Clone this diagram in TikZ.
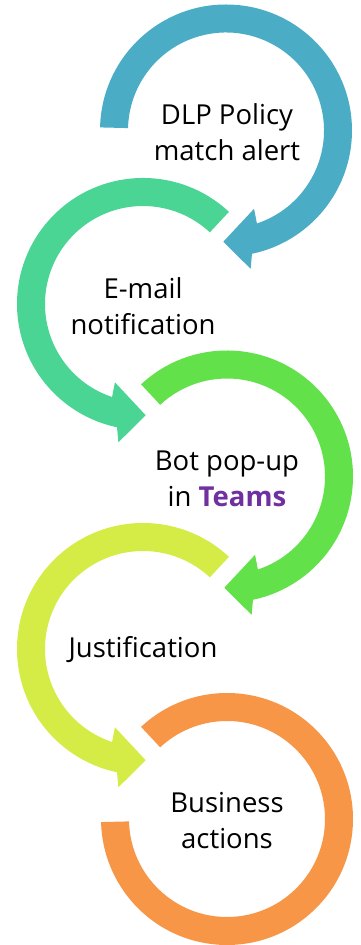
\documentclass[tikz,border=0pt]{standalone}
\usepackage{fontspec}
\setmainfont{Open Sans}
\definecolor{cblue}{HTML}{4BACC6}
\definecolor{cteal}{HTML}{4BD595}
\definecolor{cgreen}{HTML}{62E14A}
\definecolor{cyellow}{HTML}{D5EC47}
\definecolor{corange}{HTML}{F79646}
\definecolor{cpurple}{HTML}{7030A0}
\tikzset{
  ringlabel/.style={align=center, text=black, inner sep=0pt,
    font=\fontsize{27.5}{36}\selectfont},
  ringarrow/.pic={
    \fill[pic actions] (#1:126) arc[start angle=#1, end angle=-78.1, radius=126]
      -- (-79.9:140.5) -- (-91.4:111.3) -- (-70.3:83.2) -- (-71.6:98)
      arc[start angle=-71.6, end angle=#1, radius=98] -- cycle;
  },
}
\begin{document}
\begin{tikzpicture}[x=1pt,y=1pt]
\useasboundingbox (0,0) rectangle (360,945);
% ring 1 (blue, clockwise)
\pic[fill=cblue] at (226,814.5) {ringarrow=178.6};
% ring 2 (teal, mirrored)
\pic[fill=cteal, xscale=-1] at (143,641) {ringarrow=133};
% ring 3 (green)
\pic[fill=cgreen] at (227,468.5) {ringarrow=133};
% ring 4 (yellow, mirrored)
\pic[fill=cyellow, xscale=-1] at (143,296) {ringarrow=133};
% ring 5 (orange, no head)
\begin{scope}[shift={(227,126)}]
\fill[corange] (133:126) arc[start angle=133, end angle=-178.6, radius=126]
  -- (-178.6:98) arc[start angle=-178.6, end angle=133, radius=98] -- cycle;
\end{scope}
\node[ringlabel] (t1) at (227,812.5) {DLP Policy\\match alert};
\node[ringlabel] (t2) at (143,639) {E-mail\\notification};
\node[ringlabel] (t3) at (227,466.5) {Bot pop-up\\in \textcolor{cpurple}{\textbf{Teams}}};
\node[ringlabel] (t4) at (143,295) {Justification};
\node[ringlabel] (t5) at (227,124.5) {Business\\actions};
\end{tikzpicture}
\end{document}
